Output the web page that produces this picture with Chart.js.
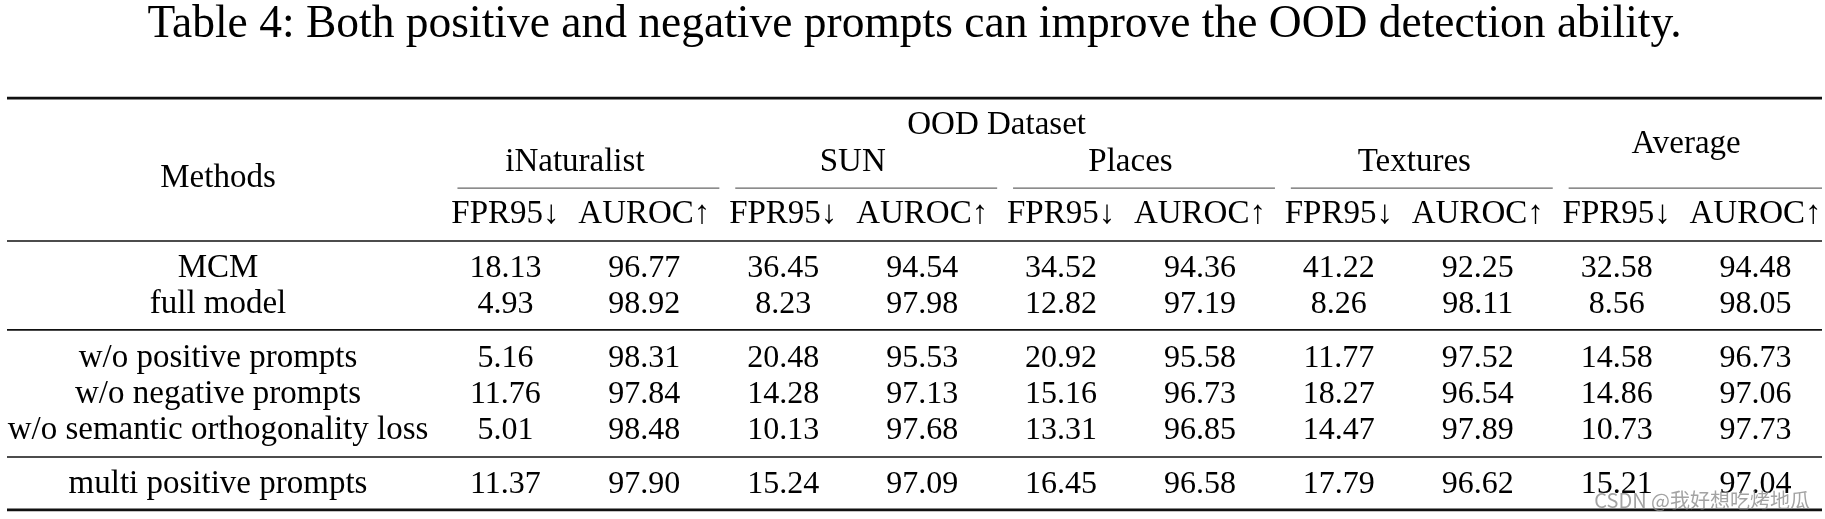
<!DOCTYPE html>
<html><head><meta charset="utf-8">
<script src="https://cdn.jsdelivr.net/npm/chart.js@4.4.1/dist/chart.umd.min.js"></script>
<style>html,body{margin:0;padding:0;background:#fff;}#wrap{width:1825px;height:519px;position:relative;}</style>
</head><body><div id="wrap"><canvas id="c"></canvas></div>
<script>
// ---- text / categories ----
const titleText = 'Table 4: Both positive and negative prompts can improve the OOD detection ability.';
const groupLabel = 'OOD Dataset';
const methodsLabel = 'Methods';
const datasetNames = ['iNaturalist', 'SUN', 'Places', 'Textures', 'Average'];
const metricNames = ['FPR95↓', 'AUROC↑'];
const methods = ['MCM', 'full model', 'w/o positive prompts', 'w/o negative prompts', 'w/o semantic orthogonality loss', 'multi positive prompts'];

// ---- values (per method, columns: iNat FPR, iNat AUROC, SUN FPR, SUN AUROC, Places FPR, Places AUROC, Textures FPR, Textures AUROC, Avg FPR, Avg AUROC) ----
const mcm           = [18.13, 96.77, 36.45, 94.54, 34.52, 94.36, 41.22, 92.25, 32.58, 94.48];
const fullModel     = [4.93, 98.92, 8.23, 97.98, 12.82, 97.19, 8.26, 98.11, 8.56, 98.05];
const woPositive    = [5.16, 98.31, 20.48, 95.53, 20.92, 95.58, 11.77, 97.52, 14.58, 96.73];
const woNegative    = [11.76, 97.84, 14.28, 97.13, 15.16, 96.73, 18.27, 96.54, 14.86, 97.06];
const woSemantic    = [5.01, 98.48, 10.13, 97.68, 13.31, 96.85, 14.47, 97.89, 10.73, 97.73];
const multiPositive = [11.37, 97.90, 15.24, 97.09, 16.45, 96.58, 17.79, 96.62, 15.21, 97.04];

const rowValues = [mcm, fullModel, woPositive, woNegative, woSemantic, multiPositive];

// ---- layout (row slots on the y scale, one unit = one text line) ----
const rowSlots = [0, 1, 2.5, 3.5, 4.5, 6];
const columns = datasetNames.flatMap(d => metricNames.map(m => d + ' ' + m));

const SERIF = "'Liberation Serif', 'Times New Roman', serif";

const tablePlugin = {
  id: 'tableText',
  afterDatasetsDraw(chart) {
    const ctx = chart.ctx, xs = chart.scales.x, ys = chart.scales.y, ca = chart.chartArea;
    const W = chart.width;
    ctx.save();
    ctx.fillStyle = '#000';
    ctx.textAlign = 'center';
    ctx.textBaseline = 'alphabetic';

    // caption
    ctx.font = '45.5px ' + SERIF;
    ctx.fillText(titleText, W / 2 + 2, 37);

    const numFont = '32px ' + SERIF;
    const txtFont = '33px ' + SERIF;

    // body cells
    chart.data.datasets.forEach((ds, di) => {
      const meta = chart.getDatasetMeta(di);
      ctx.font = numFont;
      meta.data.forEach((el, i) => {
        ctx.fillText(ds.data[i].v.toFixed(2), el.x, el.y);
      });
      ctx.font = txtFont;
      ctx.fillText(ds.label, ca.left / 2, meta.data[0].y);
    });

    ctx.font = txtFont;
    // header: metric row
    columns.forEach((c, i) => {
      ctx.fillText(metricNames[i % 2], xs.getPixelForValue(i), ys.getPixelForValue(-1.5));
    });
    // dataset names
    datasetNames.forEach((d, k) => {
      const cx = (xs.getPixelForValue(2 * k) + xs.getPixelForValue(2 * k + 1)) / 2;
      const yv = (k === datasetNames.length - 1) ? -3.44 : -2.94;
      ctx.fillText(d, cx + (k === 3 ? 6 : 0), ys.getPixelForValue(yv));
    });
    // group label
    ctx.fillText(groupLabel, (xs.getPixelForValue(0) + xs.getPixelForValue(7)) / 2 + 5, ys.getPixelForValue(-3.97));
    // methods header
    ctx.fillText(methodsLabel, ca.left / 2, ys.getPixelForValue(-2.5));

    // rules
    const hrule = (v, lw, color, x0, x1) => {
      const y = ys.getPixelForValue(v);
      ctx.beginPath();
      ctx.lineWidth = lw;
      ctx.strokeStyle = color;
      ctx.moveTo(x0, y);
      ctx.lineTo(x1, y);
      ctx.stroke();
    };
    const L = 7, R = W - 3;
    hrule(-4.97, 2.6, '#111', L, R);
    hrule(-1.0, 1.7, '#111', L, R);
    hrule(1.47, 1.7, '#111', L, R);
    hrule(5.0, 1.7, '#111', L, R);
    hrule(6.47, 2.6, '#111', L, R);
    for (let k = 0; k < datasetNames.length; k++) {
      const x0 = xs.getPixelForValue(2 * k) - 48;
      const x1 = Math.min(xs.getPixelForValue(2 * k + 1) + 75, R);
      hrule(-2.47, 1.2, '#666', x0, x1);
    }

    // watermark
    ctx.font = "20px 'Noto Sans CJK SC', 'Noto Sans', sans-serif";
    ctx.fillStyle = 'rgba(140,140,140,0.8)';
    ctx.textAlign = 'right';
    ctx.fillText('CSDN @我好想吃烤地瓜', W - 15, 508);
    ctx.restore();
  }
};

new Chart(document.getElementById('c'), {
  type: 'scatter',
  data: {
    labels: columns,
    datasets: methods.map((m, r) => ({
      label: m,
      data: columns.map((c, i) => ({ x: c, y: rowSlots[r], v: rowValues[r][i] })),
      pointRadius: 0,
      pointHoverRadius: 0,
      showLine: false
    }))
  },
  options: {
    responsive: true,
    maintainAspectRatio: false,
    animation: false,
    events: [],
    layout: { padding: { left: 436, right: 0, top: 61, bottom: 8 } },
    scales: {
      x: { type: 'category', labels: columns, offset: true, display: false },
      y: { type: 'linear', reverse: true, min: -6, max: 6.5, display: false }
    },
    plugins: {
      legend: { display: false },
      tooltip: { enabled: false },
      title: { display: false }
    }
  },
  plugins: [tablePlugin]
});
</script>
</body></html>
